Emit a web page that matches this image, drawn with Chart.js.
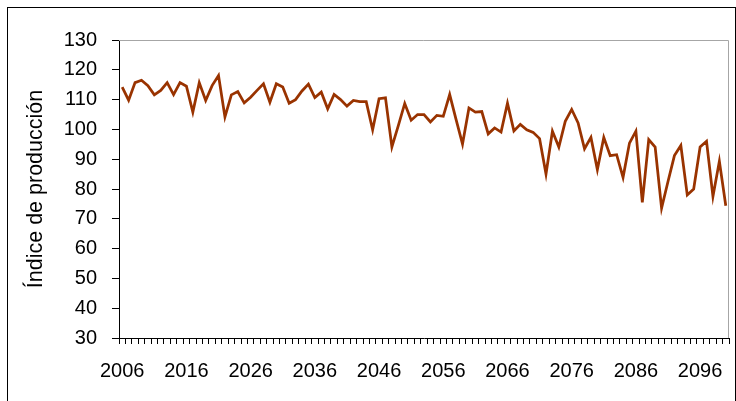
<!DOCTYPE html>
<html lang="es">
<head>
<meta charset="utf-8">
<title>Índice de producción</title>
<script src="https://cdn.jsdelivr.net/npm/chart.js@4.4.1/dist/chart.umd.min.js"></script>
<style>
  html, body { margin: 0; padding: 0; background: #fff; overflow: hidden; }
  #wrap { position: relative; width: 736px; height: 401px; }
  #frame {
    position: absolute; left: 7px; top: 7px; width: 729px; height: 420px;
    border: 1px solid #000; box-sizing: border-box; pointer-events: none;
  }
  #chart { position: absolute; left: 0; top: 0; }
</style>
</head>
<body>
<div id="wrap">
  <canvas id="chart" width="736" height="401"></canvas>
  <div id="frame"></div>
</div>
<script>
// years 2006 .. 2100, labels shown every 10 years
const startYear = 2006;
const years = [];
for (let y = startYear; y <= 2100; y++) years.push(String(y));

// production index
const produccion = [
  114.2, 109.8, 115.7, 116.5, 114.7, 111.6, 113.1, 115.7, 111.7, 115.7,
  114.5, 105.8, 115.7, 109.7, 114.7, 118.1, 104.2, 111.6, 112.7, 108.9,
  110.8, 113.1, 115.3, 109.1, 115.3, 114.2, 108.8, 110.0, 112.9, 115.2,
  110.7, 112.5, 106.9, 111.7, 110.0, 107.8, 109.7, 109.3, 109.3, 99.9,
  110.3, 110.6, 94.1, 101.3, 108.7, 103.1, 105.0, 105.0, 102.5, 104.7,
  104.4, 111.7, 103.3, 95.1, 107.2, 105.8, 106.0, 98.5, 100.5, 99.1,
  108.8, 99.5, 101.7, 99.9, 99.0, 96.9, 85.0, 99.4, 94.1, 102.7,
  106.7, 102.2, 93.5, 97.3, 86.5, 97.3, 91.2, 91.5, 83.9, 95.4,
  99.4, 75.5, 96.6, 94.1, 73.6, 82.5, 91.2, 94.6, 78.0, 80.0,
  94.1, 96.0, 77.5, 89.3, 74.4
];

const yMin = 30;
const yMax = 130;
const yStep = 10;

const FONT = { family: "'Liberation Sans', Arial, sans-serif", size: 20 };

// grey frame on top and right side of the plot area
const plotFrame = {
  id: "plotFrame",
  afterDraw(chart) {
    const { ctx, chartArea: a } = chart;
    ctx.save();
    ctx.strokeStyle = "#a6a6a6";
    ctx.lineWidth = 1;
    ctx.beginPath();
    ctx.moveTo(a.left, a.top + 0.5);
    ctx.lineTo(a.right - 0.5, a.top + 0.5);
    ctx.lineTo(a.right - 0.5, a.bottom);
    ctx.stroke();
    ctx.restore();
  }
};

new Chart(document.getElementById("chart"), {
  type: "line",
  data: {
    labels: years,
    datasets: [{
      label: "Índice de producción",
      data: produccion,
      borderColor: "#993300",
      borderWidth: 2.75,
      pointRadius: 0,
      tension: 0,
      fill: false
    }]
  },
  options: {
    responsive: false,
    animation: false,
    layout: { padding: { left: 0, top: 40, right: 7, bottom: 0 } },
    plugins: {
      legend: { display: false },
      tooltip: { enabled: false }
    },
    scales: {
      x: {
        type: "category",
        offset: true,
        grid: { offset: true, drawOnChartArea: false, drawTicks: true, tickLength: 6, color: "#000" },
        border: { display: true, color: "#000", width: 1 },
        ticks: {
          autoSkip: false,
          maxRotation: 0,
          minRotation: 0,
          padding: 15,
          color: "#000",
          font: FONT,
          callback: function (val, i) { return i % 10 === 0 ? years[i] : ""; }
        },
        afterFit(scale) {
          scale.height = 63;
          scale.paddingLeft = 0;
          scale.paddingRight = 0;
        }
      },
      y: {
        min: yMin,
        max: yMax,
        grid: { drawOnChartArea: false, drawTicks: true, tickLength: 7, color: "#000" },
        border: { display: true, color: "#000", width: 1 },
        ticks: { stepSize: yStep, padding: 15, color: "#000", font: FONT },
        title: {
          display: true,
          text: "Índice de producción",
          color: "#000",
          font: { family: FONT.family, size: 21.5 },
          padding: { top: 23, bottom: 0 }
        },
        afterFit(scale) { scale.width = 119; }
      }
    }
  },
  plugins: [plotFrame]
});
</script>
</body>
</html>
